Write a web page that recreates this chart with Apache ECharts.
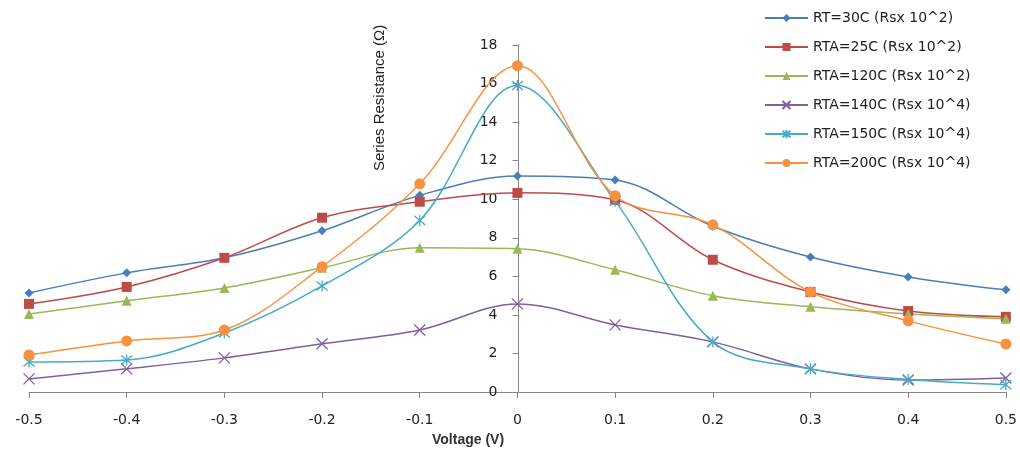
<!DOCTYPE html>
<html>
<head>
<meta charset="utf-8">
<script src="https://cdn.jsdelivr.net/npm/echarts@6/dist/echarts.min.js"></script>
<style>
  html, body { margin: 0; padding: 0; background: #fff; }
  .EC { width: 1020px; height: 452px; }
</style>
</head>
<body>
<div class="EC"></div>
<script>
// Voltage steps (V)
const voltage = [-0.5, -0.4, -0.3, -0.2, -0.1, 0, 0.1, 0.2, 0.3, 0.4, 0.5]

// Series resistance values
const rt30 = [5.14, 6.18, 6.96, 8.36, 10.2, 11.2, 11.0, 8.6, 7.0, 5.97, 5.3]
const rta25 = [4.57, 5.45, 6.96, 9.04, 9.87, 10.33, 9.97, 6.86, 5.19, 4.2, 3.9]
const rta120 = [4.05, 4.73, 5.4, 6.44, 7.48, 7.43, 6.34, 4.99, 4.42, 4.05, 3.8]
const rta140 = [0.68, 1.2, 1.77, 2.5, 3.22, 4.57, 3.48, 2.6, 1.2, 0.62, 0.73]
const rta150 = [1.56, 1.66, 3.06, 5.5, 8.9, 15.9, 9.9, 2.6, 1.2, 0.65, 0.38]
const rta200 = [1.92, 2.65, 3.22, 6.5, 10.8, 16.93, 10.18, 8.67, 5.19, 3.69, 2.49]

const names = [
    'RT=30C (Rsx 10^2)',
    'RTA=25C (Rsx 10^2)',
    'RTA=120C (Rsx 10^2)',
    'RTA=140C (Rsx 10^4)',
    'RTA=150C (Rsx 10^4)',
    'RTA=200C (Rsx 10^4)'
]

window.onload = () => {
    let EC = echarts.init(document.querySelector('.EC'))

    const pair = arr => voltage.map((v, i) => [v, arr[i]])

    // marker shapes like the old office charts
    const styles = [
        { color: '#4a7ebb', symbol: 'diamond', size: 9 },
        { color: '#be4b48', symbol: 'rect', size: 10 },
        { color: '#98b954', symbol: 'triangle', size: 10 },
        { color: '#7d60a0', symbol: 'path://M0,0L10,10M10,0L0,10', size: 11 },
        { color: '#46aac5', symbol: 'path://M0,0L10,10M10,0L0,10M5,-1L5,11', size: 11 },
        { color: '#f69240', symbol: 'circle', size: 11 }
    ]
    const data = [rt30, rta25, rta120, rta140, rta150, rta200]

    // grid edges, the y axis sits on voltage 0 in the middle
    const gridLeft = 29, gridRight = 12
    const zeroOffset = -(1020 - gridLeft - gridRight) / 2

    let option = {
        backgroundColor: '#fff',
        animation: false,
        grid: {
            left: gridLeft,
            right: gridRight,
            top: 45,
            bottom: 60
        },
        legend: {
            orient: 'vertical',
            left: 759,
            top: 6,
            itemWidth: 43,
            itemHeight: 10,
            itemGap: 15,
            textStyle: {
                fontFamily: 'DejaVu Sans',
                fontSize: 14,
                color: '#222'
            },
            data: names
        },
        xAxis: {
            type: 'value',
            min: -0.5,
            max: 0.5,
            interval: 0.1,
            axisLine: { lineStyle: { color: '#868686' } },
            axisTick: { length: 6, lineStyle: { color: '#868686' } },
            splitLine: { show: false },
            axisLabel: {
                margin: 21,
                fontFamily: 'DejaVu Sans',
                fontSize: 14,
                color: '#222',
                formatter: v => (Math.round(v * 10) / 10).toString()
            }
        },
        yAxis: {
            type: 'value',
            min: 0,
            max: 18,
            interval: 2,
            offset: zeroOffset,
            axisLine: { show: true, onZero: false, lineStyle: { color: '#868686' } },
            axisTick: { show: true, length: 6, lineStyle: { color: '#868686' } },
            splitLine: { show: false },
            axisLabel: {
                margin: 21,
                fontFamily: 'DejaVu Sans',
                fontSize: 14,
                color: '#222'
            }
        },
        graphic: [
            {
                type: 'text',
                x: 372,
                y: 171,
                rotation: Math.PI / 2,
                style: {
                    text: 'Series Resistance (Ω)',
                    fontFamily: 'Liberation Sans Narrow, Liberation Sans',
                    fontSize: 15,
                    fill: '#222'
                }
            },
            {
                type: 'text',
                left: 432,
                top: 433,
                style: {
                    text: 'Voltage (V)',
                    fontFamily: 'Liberation Sans',
                    fontSize: 14,
                    fontWeight: 'bold',
                    fill: '#333'
                }
            }
        ],
        series: names.map((n, i) => ({
            name: n,
            type: 'line',
            smooth: 0.35,
            data: pair(data[i]),
            symbol: styles[i].symbol,
            symbolSize: styles[i].size,
            itemStyle: {
                color: styles[i].color,
                borderColor: styles[i].color,
                borderWidth: i === 3 || i === 4 ? 1.3 : 0
            },
            lineStyle: {
                color: styles[i].color,
                width: 1.5
            }
        }))
    }
    EC.setOption(option)
}
</script>
</body>
</html>
